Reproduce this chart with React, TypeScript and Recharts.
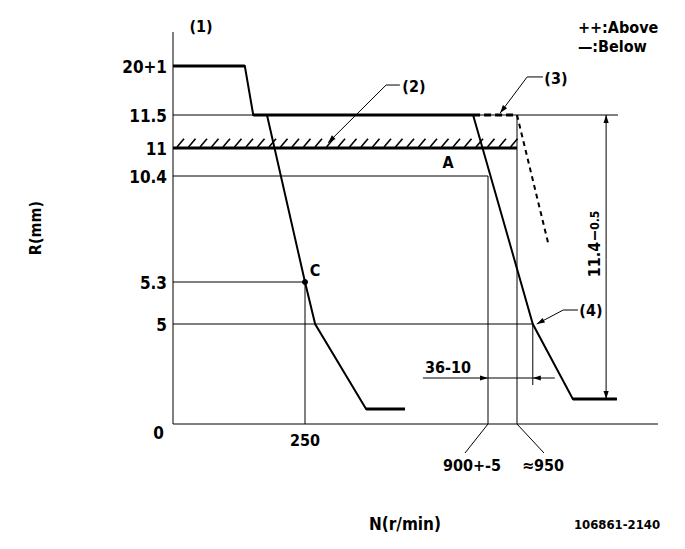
import React from 'react';
import { ComposedChart, Line, XAxis, YAxis, ReferenceLine, ReferenceDot, ReferenceArea } from 'recharts';

// ---- schematic axis anchors (value -> position along the axis, in plot units) ----
const N_ANCHORS = [0, 250, 900, 950, 1200];
const N_UNITS = [0, 132, 315, 344, 485];
const R_ANCHORS = [0, 5, 5.3, 10.4, 11, 11.5, 20, 23];
const R_UNITS = [0, 100, 142, 248, 276, 309, 358, 392];

// ---- data (N in r/min, R in mm) ----
const maxN = [0, 136, 152, 847, 978, 1049, 1127];
const maxR = [20, 20, 11.5, 11.5, 5, 1.25, 1.25];
const idleN = [178, 250, 286, 467, 605];
const idleR = [11.5, 5.3, 5, 0.75, 0.75];
const limitN = [847, 950, 1005];
const limitR = [11.5, 11.5, 7.2];

const yTickValues = [0, 5, 5.3, 10.4, 11, 11.5, 20];
const yTickLabels = ['0', '5', '5.3', '10.4', '11', '11.5', '20+1'];
const xTickValues = [250, 900, 950];
const xTickLabels = ['250', '900+-5', '≈950'];

// thin guide lines
const hLineR = [11.5, 10.4, 5.3, 5];
const hLineEndN = [1129, 900, 250, 978];
const vLineN = [250, 900, 950, 978];
const vLineTopR = [5.3, 10.4, 11.5, 5];
const vLineBottomR = [0, 0, 0, 1.95];

// hatched stop line
const stopR = 11;
const stopEndN = 950;

// dimensions
const dimN = 1108;
const dimTopR = 11.5;
const dimBottomR = 1.25;
const widthDimR = 2.3;
const widthDimFromN = 669;
const widthDimToN = 1017;
const widthDimTipN = [900, 978];

// annotation texts
const noteText = ['(1)', '(2)', '(3)', '(4)', 'A', 'C', '36-10'];
const noteN = [53, 637, 1019, 1081, 758, 286, 758];
const noteR = [23.5, 16.5, 17.9, 5.1, 10.68, 5.83, 2.85];

const legendText = ['++:Above', '—:Below'];
const legendN = [1058, 1058];
const legendR = [23.44, 21.68];

// leader lines [N, R]
const leader2 = [[587, 16.7], [538, 16.7], [332, 11.08]];
const leader3 = [[996, 18.1], [968, 18.1], [921, 11.85]];
const leader4 = [[1058, 5.1], [1032, 5.1], [985, 5.0]];

const FONT = "'Liberation Sans Narrow','DejaVu Sans Condensed','Liberation Sans',Arial,sans-serif";

function piecewise(v: number, A: number[], P: number[]) {
  let i = 0;
  while (i < A.length - 2 && v > A[i + 1]) i++;
  return P[i] + ((v - A[i]) * (P[i + 1] - P[i])) / (A[i + 1] - A[i]);
}
const mapN = (n: number) => piecewise(n, N_ANCHORS, N_UNITS);
const mapR = (r: number) => piecewise(r, R_ANCHORS, R_UNITS);

const toData = (ns: number[], rs: number[]) => ns.map((n, i) => ({ x: mapN(n), y: mapR(rs[i]) }));

const maxData = toData(maxN, maxR);
const idleData = toData(idleN, idleR);
const limitData = toData(limitN, limitR);

// horizontal (plateau) parts drawn thicker
function plateaus(ns: number[], rs: number[]) {
  const out: { x: number; y: number }[][] = [];
  for (let i = 0; i < ns.length - 1; i++) {
    if (rs[i] === rs[i + 1]) out.push(toData([ns[i], ns[i + 1]], [rs[i], rs[i + 1]]));
  }
  return out;
}
const maxPlateaus = plateaus(maxN, maxR);
const idlePlateaus = plateaus(idleN, idleR);

function arrowPoly(x1: number, y1: number, x2: number, y2: number, len = 8, half = 2.6) {
  const dx = x2 - x1;
  const dy = y2 - y1;
  const d = Math.sqrt(dx * dx + dy * dy) || 1;
  const ux = dx / d;
  const uy = dy / d;
  const bx = x2 - ux * len;
  const by = y2 - uy * len;
  return `${x2},${y2} ${bx - uy * half},${by + ux * half} ${bx + uy * half},${by - ux * half}`;
}

const arrowShape = (atStart: boolean, atEnd: boolean, width = 1) => (p: any) => {
  const { x1, y1, x2, y2 } = p;
  return (
    <g>
      <line x1={x1} y1={y1} x2={x2} y2={y2} stroke="#000" strokeWidth={width} />
      {atEnd && <polygon points={arrowPoly(x1, y1, x2, y2)} fill="#000" />}
      {atStart && <polygon points={arrowPoly(x2, y2, x1, y1)} fill="#000" />}
    </g>
  );
};

const seg = (n1: number, r1: number, n2: number, r2: number): any => [
  { x: mapN(n1), y: mapR(r1) },
  { x: mapN(n2), y: mapR(r2) },
];

const XTick = (props: any) => {
  const { x, y, payload } = props;
  const idx = xTickValues.findIndex((v) => Math.abs(mapN(v) - payload.value) < 0.01);
  const label = idx >= 0 ? xTickLabels[idx] : '';
  const style = { fontFamily: FONT, fontWeight: 700, fontSize: 16 } as any;
  if (idx === 0) {
    return (
      <text x={x} y={y + 16} textAnchor="middle" dominantBaseline="central" style={style} fill="#000">
        {label}
      </text>
    );
  }
  const off = idx === 1 ? -23 : 27;
  const toff = idx === 1 ? -16 : 26;
  return (
    <g>
      <line x1={x} y1={y} x2={x + off} y2={y + 29} stroke="#000" strokeWidth={1} />
      <text x={x + toff} y={y + 41} textAnchor="middle" dominantBaseline="central" style={style} fill="#000">
        {label}
      </text>
    </g>
  );
};

const YTick = (props: any) => {
  const { x, y, payload } = props;
  const idx = yTickValues.findIndex((v) => Math.abs(mapR(v) - payload.value) < 0.01);
  const label = idx >= 0 ? yTickLabels[idx] : '';
  const dy = idx === 0 ? 9 : 1;
  const dx = idx === 0 ? -3 : 0;
  return (
    <text
      x={x + dx}
      y={y + dy}
      textAnchor="end"
      dominantBaseline="central"
      fill="#000"
      style={{ fontFamily: FONT, fontWeight: 700, fontSize: 17 }}
    >
      {label}
    </text>
  );
};

const textShape = (label: string, anchor: 'middle' | 'start', size = 16) => (p: any) => (
  <text
    x={p.cx}
    y={p.cy}
    textAnchor={anchor}
    dominantBaseline="central"
    fill="#000"
    style={{ fontFamily: FONT, fontWeight: 700, fontSize: size }}
  >
    {label}
  </text>
);

const HatchShape = (p: any) => {
  const { x, y, width, height } = p;
  const bottom = y + height;
  const hatches = [];
  for (let hx = x + 4; hx + 7 <= x + width + 1; hx += 11.5) {
    hatches.push(<line key={hx} x1={hx} y1={bottom - 1} x2={hx + 7} y2={y} stroke="#000" strokeWidth={1.6} />);
  }
  return (
    <g>
      {hatches}
      <line x1={x} y1={bottom} x2={x + width} y2={bottom} stroke="#000" strokeWidth={3} />
    </g>
  );
};

const dimLabelShape = (p: any) => (
  <text
    transform={`translate(${p.cx},${p.cy}) rotate(-90)`}
    textAnchor="middle"
    dominantBaseline="central"
    fill="#000"
    style={{ fontFamily: FONT, fontWeight: 700, fontSize: 16 }}
  >
    11.4−<tspan style={{ fontSize: 12 }}>0.5</tspan>
  </text>
);

const leaderLines = (pts: number[][], key: string) =>
  pts.slice(0, -1).map((pt, i) => (
    <ReferenceLine
      key={`${key}-${i}`}
      segment={seg(pt[0], pt[1], pts[i + 1][0], pts[i + 1][1])}
      shape={arrowShape(false, i === pts.length - 2)}
      ifOverflow="visible"
    />
  ));

export default function App() {
  return (
    <div style={{ position: 'absolute', left: 0, top: 0, background: '#fff' }}>
      <ComposedChart width={685} height={549} margin={{ top: 32, right: 27, bottom: 18, left: 113 }}>
        <XAxis
          type="number"
          dataKey="x"
          domain={[0, 485]}
          ticks={xTickValues.map(mapN)}
          interval={0}
          tickLine={false}
          tickSize={0}
          tickMargin={0}
          axisLine={{ stroke: '#000', strokeWidth: 1 }}
          height={107}
          tick={<XTick />}
          allowDataOverflow
          label={{
            content: (lp: any) => {
              const vb = lp.viewBox || { x: 173, y: 424 };
              return (
                <g>
                  <text
                    x={vb.x + 232}
                    y={vb.y + 100}
                    textAnchor="middle"
                    dominantBaseline="central"
                    fill="#000"
                    style={{ fontFamily: FONT, fontWeight: 700, fontSize: 17 }}
                  >
                    N(r/min)
                  </text>
                  <text
                    x={vb.x + 444}
                    y={vb.y + 100}
                    textAnchor="middle"
                    dominantBaseline="central"
                    fill="#000"
                    style={{ fontFamily: FONT, fontWeight: 700, fontSize: 13 }}
                  >
                    106861-2140
                  </text>
                </g>
              );
            },
          }}
        />
        <YAxis
          type="number"
          domain={[0, 392]}
          ticks={yTickValues.map(mapR)}
          interval={0}
          width={60}
          tickLine={false}
          tickSize={0}
          tickMargin={6}
          axisLine={{ stroke: '#000', strokeWidth: 1 }}
          tick={<YTick />}
          allowDataOverflow
          label={{
            content: (lp: any) => {
              const vb = lp.viewBox || { x: 113, y: 32, height: 392 };
              const cx = vb.x - 78;
              const cy = vb.y + vb.height / 2;
              return (
                <text
                  transform={`translate(${cx},${cy}) rotate(-90)`}
                  textAnchor="middle"
                  dominantBaseline="central"
                  fill="#000"
                  style={{ fontFamily: FONT, fontWeight: 700, fontSize: 16 }}
                >
                  R(mm)
                </text>
              );
            },
          }}
        />

        {/* thin guide lines */}
        {hLineR.map((r, i) => (
          <ReferenceLine key={`h${i}`} segment={seg(0, r, hLineEndN[i], r)} stroke="#000" strokeWidth={1} />
        ))}
        {vLineN.map((n, i) => (
          <ReferenceLine key={`v${i}`} segment={seg(n, vLineBottomR[i], n, vLineTopR[i])} stroke="#000" strokeWidth={1} />
        ))}

        {/* hatched stop line (2) */}
        <ReferenceArea x1={mapN(0)} x2={mapN(stopEndN)} y1={mapR(stopR)} y2={mapR(11.14)} shape={HatchShape} />

        {/* dimensions */}
        <ReferenceLine segment={seg(dimN, (dimTopR + dimBottomR) / 2, dimN, dimTopR)} shape={arrowShape(false, true)} />
        <ReferenceLine segment={seg(dimN, (dimTopR + dimBottomR) / 2, dimN, dimBottomR)} shape={arrowShape(false, true)} />
        <ReferenceLine segment={seg(widthDimFromN, widthDimR, widthDimTipN[0], widthDimR)} shape={arrowShape(false, true)} />
        <ReferenceLine segment={seg(widthDimTipN[0], widthDimR, widthDimTipN[1], widthDimR)} stroke="#000" strokeWidth={1} />
        <ReferenceLine segment={seg(widthDimToN, widthDimR, widthDimTipN[1], widthDimR)} shape={arrowShape(false, true)} />

        {/* leaders */}
        {leaderLines(leader2, 'l2')}
        {leaderLines(leader3, 'l3')}
        {leaderLines(leader4, 'l4')}

        {/* curves */}
        <Line data={maxData} dataKey="y" type="linear" stroke="#000" strokeWidth={2} dot={false} isAnimationActive={false} />
        {maxPlateaus.map((d, i) => (
          <Line key={`mp${i}`} data={d} dataKey="y" type="linear" stroke="#000" strokeWidth={3} dot={false} isAnimationActive={false} />
        ))}
        <Line data={idleData} dataKey="y" type="linear" stroke="#000" strokeWidth={2} dot={false} isAnimationActive={false} />
        {idlePlateaus.map((d, i) => (
          <Line key={`ip${i}`} data={d} dataKey="y" type="linear" stroke="#000" strokeWidth={3} dot={false} isAnimationActive={false} />
        ))}
        <Line
          data={limitData.slice(0, 2)}
          dataKey="y"
          type="linear"
          stroke="#000"
          strokeWidth={3}
          strokeDasharray="7 4"
          dot={false}
          isAnimationActive={false}
        />
        <Line
          data={limitData.slice(1)}
          dataKey="y"
          type="linear"
          stroke="#000"
          strokeWidth={2}
          strokeDasharray="5 4"
          dot={false}
          isAnimationActive={false}
        />

        {/* point C */}
        <ReferenceDot x={mapN(250)} y={mapR(5.3)} r={2.5} fill="#000" stroke="#000" />

        {/* annotations */}
        {noteText.map((t, i) => (
          <ReferenceDot key={`n${i}`} x={mapN(noteN[i])} y={mapR(noteR[i])} ifOverflow="visible" shape={textShape(t, 'middle')} />
        ))}
        {legendText.map((t, i) => (
          <ReferenceDot key={`lg${i}`} x={mapN(legendN[i])} y={mapR(legendR[i])} ifOverflow="visible" shape={textShape(t, 'start', 16)} />
        ))}
        <ReferenceDot x={mapN(1088)} y={mapR(7.13)} ifOverflow="visible" shape={dimLabelShape} />
      </ComposedChart>
    </div>
  );
}
